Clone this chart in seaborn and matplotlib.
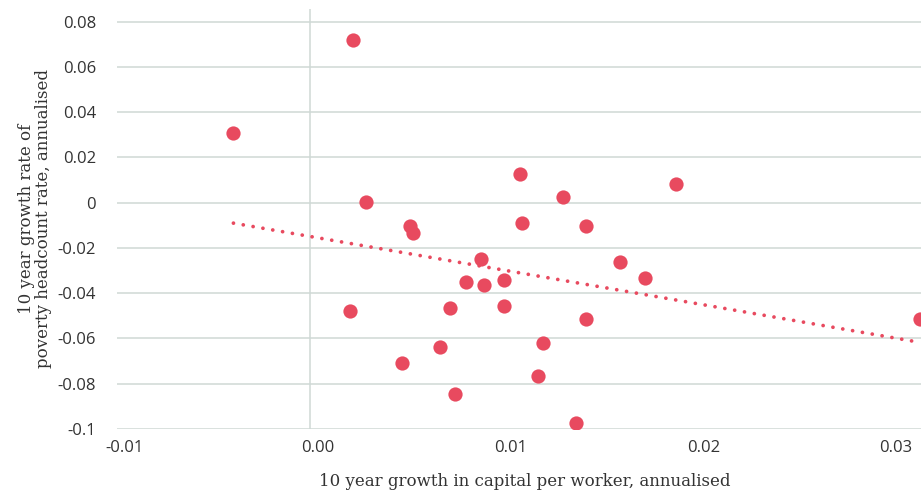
import matplotlib
matplotlib.use("Agg")
import matplotlib.pyplot as plt
import matplotlib.transforms as mtransforms
import numpy as np
import pandas as pd
import seaborn as sns

# 10-year annualised growth in capital per worker (x) vs. poverty headcount rate growth (y)
capital_growth = [
    -0.00396, 0.00226, 0.00293, 0.00211, 0.00519, 0.00534, 0.00478, 0.00678,
    0.00730, 0.00755, 0.00812, 0.00889, 0.00904, 0.01007, 0.01007, 0.01089,
    0.01100, 0.01182, 0.01208, 0.01316, 0.01382, 0.01434, 0.01434, 0.01608,
    0.01737, 0.01901, 0.03166,
]
poverty_growth = [
    0.0308, 0.0720, 0.0002, -0.0479, -0.0103, -0.0134, -0.0709, -0.0638,
    -0.0466, -0.0846, -0.0352, -0.0250, -0.0364, -0.0342, -0.0456, 0.0127,
    -0.0089, -0.0765, -0.0618, 0.0024, -0.0972, -0.0102, -0.0513, -0.0261,
    -0.0332, 0.0081, -0.0515,
]

x_ticks = [-0.01, 0.00, 0.01, 0.02, 0.03]
x_tick_labels = ["-0.01", "0.00", "0.01", "0.02", "0.03"]
y_ticks = [0.08, 0.06, 0.04, 0.02, 0.0, -0.02, -0.04, -0.06, -0.08, -0.1]
y_tick_labels = ["0.08", "0.06", "0.04", "0.02", "0", "-0.02", "-0.04", "-0.06", "-0.08", "-0.1"]

x_label = "10 year growth in capital per worker, annualised"
y_label = "10 year growth rate of\npoverty headcount rate, annualised"

df = pd.DataFrame({"capital": capital_growth, "poverty": poverty_growth})

RED = "#e84a5f"
GRID = "#cfd9d5"
TEXT = "#333333"

sns.set_theme(style="white")
plt.rcParams["font.family"] = ["Open Sans", "DejaVu Sans"]

fig = plt.figure(figsize=(9.21, 4.92), dpi=100)
W, H = 921, 492
ax = fig.add_axes([117 / W, 1 - 429 / H, (921 - 117) / W, (429 - 9) / H])

# horizontal grid and the zero line on the x axis
for yt in y_ticks:
    ax.axhline(yt, color=GRID, lw=1.1, zorder=0)
ax.axvline(0, color=GRID, lw=1.1, zorder=0)

sns.regplot(
    data=df, x="capital", y="poverty", ax=ax, ci=None, truncate=True,
    scatter_kws=dict(s=105, color=RED, linewidths=0, alpha=1, zorder=3, clip_on=True),
    line_kws=dict(color=RED, lw=2.7, linestyle=(0, (0.01, 2.65)),
                  dash_capstyle="round", zorder=2),
)

ax.set_xlim(-0.00961, 0.03171)
ax.set_ylim(-0.1, 0.0856)

ax.set_xticks(x_ticks)
ax.set_xticklabels(x_tick_labels)
ax.set_yticks(y_ticks)
ax.set_yticklabels(y_tick_labels)
ax.tick_params(axis="both", length=0, labelsize=12, labelcolor=TEXT)
ax.tick_params(axis="y", pad=15)
ax.tick_params(axis="x", pad=8)

# nudge the x tick labels slightly to the right
shift = mtransforms.ScaledTranslation(0.08, 0, fig.dpi_scale_trans)
for lab in ax.get_xticklabels():
    lab.set_transform(lab.get_transform() + shift)

for s in ax.spines.values():
    s.set_visible(False)
ax.grid(False)

ax.set_xlabel(x_label, family=["DejaVu Serif"], fontsize=12, color=TEXT)
ax.set_ylabel(y_label, family=["DejaVu Serif"], fontsize=12, color=TEXT,
              linespacing=1.0)
ax.xaxis.set_label_coords(0.5075, -0.105)
ax.yaxis.set_label_coords(-0.081, 0.5)

fig.savefig("out.png", dpi=100)
